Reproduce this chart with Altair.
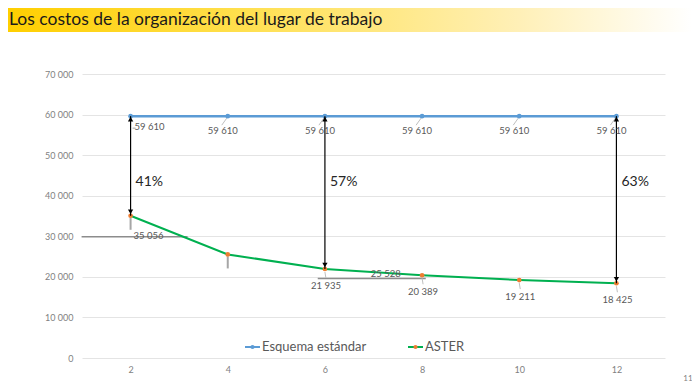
import altair as alt
import pandas as pd

TITLE = "Los costos de la organización del lugar de trabajo"
x_vals = [2, 4, 6, 8, 10, 12]
estandar = [59610, 59610, 59610, 59610, 59610, 59610]
aster = [35056, 25528, 21935, 20389, 19211, 18425]
arrow_x = [2, 6, 12]
arrow_pct = ["41%", "57%", "63%"]
series_names = ["Esquema estándar", "ASTER"]
series_colors = ["#5B9BD5", "#00B050"]
point_colors = ["#5B9BD5", "#ED7D31"]
y_ticks = [0, 10000, 20000, 30000, 40000, 50000, 60000, 70000]
x_ticks = [2, 4, 6, 8, 10, 12]
page_number = "11"

PCT_Y = 43400
FONT = "Lato"
LABEL_COLOR = "#595959"


def fmt(v):
    return f"{v:,}".replace(",", " ")


est_df = pd.DataFrame({"x": x_vals, "v": estandar, "label": [fmt(v) for v in estandar]})
ast_df = pd.DataFrame({"x": x_vals, "v": aster, "label": [fmt(v) for v in aster]})
arr_df = pd.DataFrame({
    "x": arrow_x,
    "v": [estandar[x_vals.index(a)] for a in arrow_x],
    "v2": [aster[x_vals.index(a)] for a in arrow_x],
    "pct": arrow_pct,
})
one = alt.Data(values=[{}])

xs = alt.Scale(domain=[1, 13], nice=False, zero=False)
ys = alt.Scale(domain=[0, 70000], nice=False)
x_axis = alt.Axis(values=x_ticks, grid=False, domain=False, ticks=False, labelFontSize=9,
                  labelColor="#7f7f7f", labelPadding=7, title=None, labelFont=FONT)
y_axis = alt.Axis(values=y_ticks, grid=True, gridColor="#e4e4e4", gridWidth=1, domain=False,
                  ticks=False, labelFontSize=9, labelColor="#7f7f7f", labelPadding=9,
                  title=None, labelFont=FONT,
                  labelExpr="replace(format(datum.value, ',d'), ',', ' ')")
X = alt.X("x:Q", scale=xs, axis=x_axis)
Y = alt.Y("v:Q", scale=ys, axis=y_axis)

# Title band
band = alt.Chart(one).mark_rect(
    color=alt.LinearGradient(
        gradient="linear",
        stops=[alt.GradientStop(color="#FFCF00", offset=0),
               alt.GradientStop(color="#FFE050", offset=0.35),
               alt.GradientStop(color="#FFF0B8", offset=0.75),
               alt.GradientStop(color="#FFFFFF", offset=1)],
        x1=0, x2=1, y1=0, y2=0)
).encode(x=alt.value(-74), x2=alt.value(610), y=alt.value(-66), y2=alt.value(-42))
title = alt.Chart(one).mark_text(align="left", baseline="alphabetic", fontSize=17.5,
                                 font=FONT, color="#1a1a1a").encode(
    x=alt.value(-73), y=alt.value(-49), text=alt.value(TITLE))
pageno = alt.Chart(one).mark_text(align="center", baseline="alphabetic", fontSize=8,
                                  font=FONT, color="#7f7f7f").encode(
    x=alt.value(606), y=alt.value(307), text=alt.value(page_number))

# Gray leader lines (as in the original)
g1 = alt.Chart(ast_df).transform_filter("datum.x == 2 || datum.x == 4").mark_rule(
    color="#a6a6a6", strokeWidth=2, yOffset=2, y2Offset=14).encode(x=X, y=Y, y2="v")
g2 = alt.Chart(ast_df).transform_filter("datum.x == 2").mark_rule(
    color="#8c8c8c", strokeWidth=1.5, xOffset=-49, x2Offset=57, yOffset=21, y2Offset=21
).encode(x=X, x2="x", y=Y, y2="v")
g3 = alt.Chart(ast_df).transform_filter("datum.x == 4").mark_rule(
    color="#8c8c8c", strokeWidth=1.5, xOffset=90, x2Offset=198, yOffset=24, y2Offset=24
).encode(x=X, x2="x", y=Y, y2="v")
g4 = alt.Chart(ast_df).transform_filter("datum.x >= 6").mark_rule(
    color="#bfbfbf", strokeWidth=1, yOffset=3, y2Offset=9, x2Offset=1).encode(
    x=X, x2="x", y=Y, y2="v")
b4 = alt.Chart(est_df).transform_filter("datum.x >= 4").mark_rule(
    color="#bfbfbf", strokeWidth=1, xOffset=-1, yOffset=2, x2Offset=-6, y2Offset=9).encode(
    x=X, x2="x", y=Y, y2="v")
b2 = alt.Chart(est_df).transform_filter("datum.x == 2").mark_rule(
    color="#a6a6a6", strokeWidth=1, xOffset=2, x2Offset=5, yOffset=12, y2Offset=12).encode(
    x=X, x2="x", y=Y, y2="v")

# Series
est_line = alt.Chart(est_df).mark_line(color=series_colors[0], strokeWidth=2.5).encode(x=X, y=Y)
est_pts = alt.Chart(est_df).mark_point(filled=True, color=point_colors[0], size=22,
                                       opacity=1).encode(x=X, y=Y)
ast_line = alt.Chart(ast_df).mark_line(color=series_colors[1], strokeWidth=2).encode(x=X, y=Y)
ast_pts = alt.Chart(ast_df).mark_point(filled=True, color=point_colors[1], size=22,
                                       opacity=1).encode(x=X, y=Y)

# Arrows
arr_rule = alt.Chart(arr_df).mark_rule(color="#000000", strokeWidth=1.2).encode(
    x=X, y=Y, y2=alt.Y2("v2"))
arr_top = alt.Chart(arr_df).mark_point(shape="triangle-up", filled=True, color="#000000",
                                       size=28, opacity=1, yOffset=3).encode(x=X, y=Y)
arr_bot = alt.Chart(arr_df).mark_point(shape="triangle-down", filled=True, color="#000000",
                                       size=28, opacity=1, yOffset=-4).encode(
    x=X, y=alt.Y("v2:Q", scale=ys, axis=y_axis))
pct = alt.Chart(arr_df).mark_text(align="left", baseline="middle", dx=5, fontSize=14,
                                  font=FONT, color="#262626").encode(
    x=X, y=alt.Y(datum=PCT_Y, type="quantitative", scale=ys, axis=y_axis), text="pct:N")

# Data labels
def labels(df, cond, dx, dy):
    return alt.Chart(df).transform_filter(cond).mark_text(
        align="center", baseline="middle", dx=dx, dy=dy, fontSize=9.5, font=FONT,
        color=LABEL_COLOR).encode(x=X, y=Y, text="label:N")

lab = [
    labels(est_df, "datum.x == 2", 19, 11),
    labels(est_df, "datum.x >= 4", -5, 15),
    labels(ast_df, "datum.x == 2", 18, 20),
    labels(ast_df, "datum.x == 4", 158, 20),
    labels(ast_df, "datum.x >= 6", 1, 17),
]

# Legend (drawn in pixels)
def legend_item(x0, name, lcol, pcol):
    line = alt.Chart(one).mark_rule(color=lcol, strokeWidth=2).encode(
        x=alt.value(x0), x2=alt.value(x0 + 15), y=alt.value(273))
    dot = alt.Chart(one).mark_point(filled=True, color=pcol, size=18, opacity=1).encode(
        x=alt.value(x0 + 7.5), y=alt.value(273))
    txt = alt.Chart(one).mark_text(align="left", baseline="middle", fontSize=13, font=FONT,
                                   color=LABEL_COLOR).encode(
        x=alt.value(x0 + 17), y=alt.value(273), text=alt.value(name))
    return [line, dot, txt]

leg = legend_item(163, series_names[0], series_colors[0], point_colors[0]) + \
    legend_item(326, series_names[1], series_colors[1], point_colors[1])

chart = alt.layer(
    band, title, pageno,
    g1, g2, g3, g4, b4, b2,
    est_line, ast_line, est_pts, ast_pts,
    arr_rule, arr_top, arr_bot, pct,
    *lab, *leg
).properties(
    width=583, height=284,
    autosize=alt.AutoSizeParams(type="none"),
    padding={"left": 74, "top": 66, "right": 27, "bottom": 25},
    background="white",
).configure_view(stroke=None)

chart.save("out.html", embed_options={"renderer": "svg", "actions": False})
